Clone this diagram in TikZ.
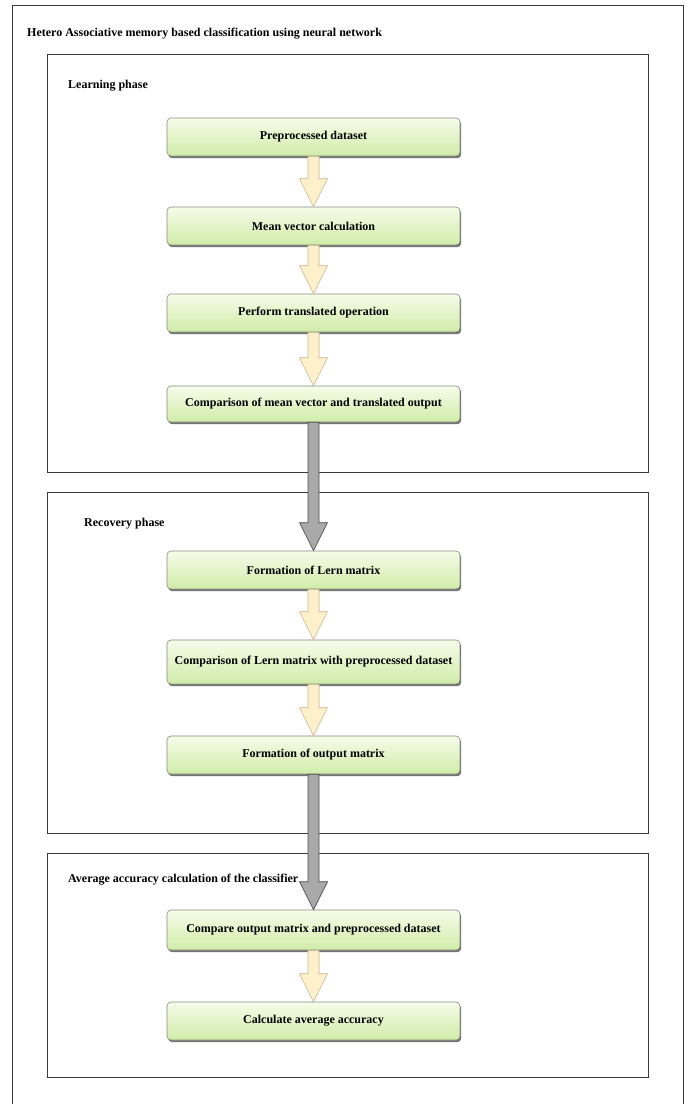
\documentclass[tikz,border=0pt]{standalone}
\usepackage{fontspec}
\setmainfont{Liberation Serif}
\usetikzlibrary{shadows,calc}
\definecolor{boxtop}{HTML}{F6FCEA}
\definecolor{boxbot}{HTML}{D0ECA8}
\definecolor{boxline}{HTML}{8A8A80}
\definecolor{lightarrow}{HTML}{FFF0CC}
\definecolor{lightarrowline}{HTML}{C9B68E}
\definecolor{darkarrow}{HTML}{A9A9A9}
\definecolor{darkarrowline}{HTML}{505050}
\definecolor{frameline}{HTML}{3A3A3A}
\tikzset{
  stepbox/.style={draw=boxline, line width=0.6pt, rounded corners=4pt,
    top color=boxtop, bottom color=boxbot,
    minimum width=293pt, minimum height=38pt, inner sep=0pt,
    font=\fontsize{12}{14}\selectfont\bfseries,
    drop shadow={shadow xshift=1.2pt, shadow yshift=-2.2pt, fill=black, opacity=0.55}},
  phaseframe/.style={draw=frameline, line width=0.8pt},
  phaselabel/.style={anchor=west, inner sep=0pt, font=\fontsize{12}{14}\selectfont\bfseries},
  lightfat/.style={fill=lightarrow, draw=lightarrowline, line width=0.6pt, line join=miter},
  darkfat/.style={fill=darkarrow, draw=darkarrowline, line width=0.7pt, line join=miter}
}
\newcommand{\fatarrow}[3]{%
  \draw[#1] let \p1=(#2.south), \p2=(#3.north) in
    (\x1-5.5pt,\y1) -- (\x1-5.5pt,\y2+28pt) -- (\x1-14pt,\y2+28pt) -- (\x1,\y2)
    -- (\x1+14pt,\y2+28pt) -- (\x1+5.5pt,\y2+28pt) -- (\x1+5.5pt,\y1) -- cycle;}
\begin{document}
\begin{tikzpicture}[x=1pt,y=-1pt]
\useasboundingbox (0,0) rectangle (689,1104);
\fill[white] (0,0) rectangle (689,1104);
% outer frame
\draw[frameline, line width=0.9pt] (12.5,1120) -- (12.5,5) -- (683,5) -- (683,1120);
\node[phaselabel] (title) at (27,34) {Hetero Associative memory based classification using neural network};
% phase frames
\draw[phaseframe] (47,54) rectangle (648,472);
\draw[phaseframe] (47,492) rectangle (648,833);
\draw[phaseframe] (47,853) rectangle (648,1077);
\node[phaselabel] (learn) at (68,86) {Learning phase};
\node[phaselabel] (recov) at (84,524) {Recovery phase};
\node[phaselabel] (avg) at (68,880) {Average accuracy calculation of the classifier};
% step boxes
\node[stepbox] (b1) at (313.5,137) {Preprocessed dataset};
\node[stepbox] (b2) at (313.5,226) {Mean vector calculation};
\node[stepbox] (b3) at (313.5,313) {Perform translated operation};
\node[stepbox, minimum height=36pt] (b4) at (313.5,404) {Comparison of mean vector and translated output};
\node[stepbox] (b5) at (313.5,570) {Formation of Lern matrix};
\node[stepbox, minimum height=44pt] (b6) at (313.5,662) {Comparison of Lern matrix with preprocessed dataset};
\node[stepbox] (b7) at (313.5,755) {Formation of output matrix};
\node[stepbox, minimum height=40pt] (b8) at (313.5,930) {Compare output matrix and preprocessed dataset};
\node[stepbox] (b9) at (313.5,1021) {Calculate average accuracy};
% arrows
\fatarrow{lightfat}{b1}{b2}
\fatarrow{lightfat}{b2}{b3}
\fatarrow{lightfat}{b3}{b4}
\fatarrow{darkfat}{b4}{b5}
\fatarrow{lightfat}{b5}{b6}
\fatarrow{lightfat}{b6}{b7}
\fatarrow{darkfat}{b7}{b8}
\fatarrow{lightfat}{b8}{b9}
\end{tikzpicture}
\end{document}
